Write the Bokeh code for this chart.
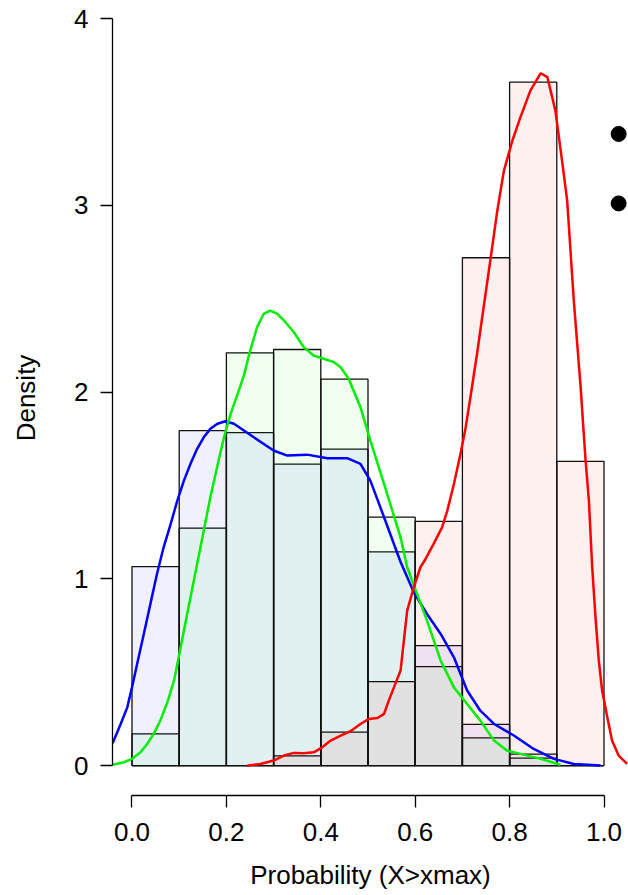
from bokeh.plotting import figure
from bokeh.models import Range1d, FixedTicker, PrintfTickFormatter
from bokeh.embed import file_html
from bokeh.resources import INLINE

# ---------------- data ----------------
bin_edges = [0.0, 0.1, 0.2, 0.3, 0.4, 0.5, 0.6, 0.7, 0.8, 0.9, 1.0]
blue_hist = [1.065, 1.794, 1.783, 1.614, 1.694, 1.144, 0.642, 0.221, 0.062, 0.0]
green_hist = [0.170, 1.271, 2.210, 2.228, 2.069, 1.330, 0.530, 0.148, 0.040, 0.0]
red_hist = [0.0, 0.0, 0.0, 0.052, 0.179, 0.450, 1.308, 2.719, 3.659, 1.629]

blue_x = [-0.041, -0.024, -0.010, 0.000, 0.011, 0.025, 0.039, 0.053, 0.067, 0.082,
          0.096, 0.110, 0.124, 0.138, 0.152, 0.166, 0.181, 0.198, 0.216, 0.258, 0.300,
          0.329, 0.371, 0.414, 0.456, 0.484, 0.505, 0.534, 0.569, 0.597, 0.625, 0.654,
          0.682, 0.710, 0.738, 0.767, 0.809, 0.851, 0.894, 0.936, 0.993]
blue_y = [0.120, 0.223, 0.312, 0.419, 0.545, 0.705, 0.866, 1.027, 1.169, 1.294,
          1.419, 1.526, 1.616, 1.696, 1.758, 1.803, 1.830, 1.844, 1.830, 1.758, 1.687,
          1.660, 1.665, 1.646, 1.646, 1.616, 1.526, 1.330, 1.090, 0.928, 0.812, 0.705,
          0.580, 0.402, 0.294, 0.223, 0.161, 0.089, 0.036, 0.009, 0.0]

green_x = [-0.041, -0.017, 0.000, 0.018, 0.032, 0.046, 0.060, 0.075, 0.089, 0.099,
           0.110, 0.124, 0.138, 0.152, 0.166, 0.181, 0.195, 0.209, 0.224, 0.237, 0.249,
           0.265, 0.279, 0.293, 0.308, 0.322, 0.343, 0.364, 0.385, 0.406, 0.428, 0.442,
           0.459, 0.484, 0.505, 0.534, 0.569, 0.583, 0.604, 0.625, 0.654, 0.682, 0.710,
           0.738, 0.767, 0.795, 0.823, 0.866, 0.908]
green_y = [0.005, 0.018, 0.036, 0.071, 0.116, 0.170, 0.241, 0.339, 0.455, 0.580,
           0.723, 0.901, 1.080, 1.258, 1.437, 1.606, 1.758, 1.883, 1.992, 2.088, 2.210,
           2.347, 2.419, 2.436, 2.419, 2.383, 2.320, 2.240, 2.195, 2.178, 2.160, 2.133,
           2.071, 1.919, 1.740, 1.508, 1.222, 1.062, 0.919, 0.776, 0.562, 0.419, 0.330,
           0.241, 0.134, 0.080, 0.063, 0.036, 0.005]

red_x = [0.244, 0.272, 0.300, 0.322, 0.343, 0.364, 0.385, 0.403, 0.421, 0.442, 0.463,
         0.484, 0.502, 0.520, 0.534, 0.544, 0.555, 0.569, 0.583, 0.597, 0.611, 0.620,
         0.639, 0.657, 0.668, 0.682, 0.696, 0.707, 0.717, 0.731, 0.745, 0.760, 0.774,
         0.788, 0.806, 0.823, 0.844, 0.866, 0.880, 0.897, 0.911, 0.922, 0.936, 0.950,
         0.961, 0.968, 0.975, 0.982, 0.989, 0.996, 1.007, 1.017, 1.031, 1.049]
red_y = [0.0, 0.009, 0.027, 0.054, 0.068, 0.066, 0.071, 0.098, 0.134, 0.161, 0.184,
         0.223, 0.250, 0.255, 0.277, 0.348, 0.419, 0.509, 0.830, 0.955, 1.062, 1.098,
         1.187, 1.276, 1.365, 1.508, 1.669, 1.812, 1.972, 2.205, 2.454, 2.720, 2.972,
         3.186, 3.347, 3.472, 3.614, 3.707, 3.686, 3.507, 3.240, 3.025, 2.490, 2.044,
         1.633, 1.419, 1.062, 0.794, 0.562, 0.402, 0.259, 0.134, 0.054, 0.009]

legend_dot_x = [1.031, 1.031]
legend_dot_y = [3.382, 3.010]

x_ticks = [0.0, 0.2, 0.4, 0.6, 0.8, 1.0]
y_ticks = [0, 1, 2, 3, 4]

FONT = "Liberation Sans"
FS = "26px"

p = figure(width=628, height=895, output_backend="svg", toolbar_location=None,
           x_range=Range1d(-0.0413, 1.0519), y_range=Range1d(-0.16, 4.0964),
           min_border_left=112, min_border_right=0, min_border_top=0,
           min_border_bottom=100)
p.outline_line_color = None
p.xgrid.visible = False
p.ygrid.visible = False
p.background_fill_color = "white"
p.border_fill_color = "white"

lefts = bin_edges[:-1]
rights = bin_edges[1:]
for hist, col in [(blue_hist, "blue"), (green_hist, "lime"), (red_hist, "red")]:
    p.quad(left=lefts, right=rights, bottom=0, top=hist, fill_color=col,
           fill_alpha=0.06, line_color="#111111", line_width=1.3)

p.line(blue_x, blue_y, line_color="blue", line_width=2.5)
p.line(green_x, green_y, line_color="#00ee00", line_width=2.5)
p.line(red_x, red_y, line_color="red", line_width=2.5)

p.scatter(legend_dot_x, legend_dot_y, size=15, color="black")

for ax in (p.xaxis[0], p.yaxis[0]):
    ax.axis_line_color = "black"
    ax.axis_line_width = 1.3
    ax.major_tick_line_color = "black"
    ax.major_tick_line_width = 1.3
    ax.major_tick_out = 12
    ax.major_tick_in = 0
    ax.minor_tick_line_color = None
    ax.major_label_text_font = FONT
    ax.major_label_text_font_size = FS
    ax.major_label_text_color = "black"
    ax.axis_label_text_font = FONT
    ax.axis_label_text_font_size = FS
    ax.axis_label_text_font_style = "normal"
    ax.axis_label_text_color = "black"

p.xaxis[0].bounds = (0, 1)
p.xaxis[0].ticker = FixedTicker(ticks=x_ticks)
p.xaxis[0].formatter = PrintfTickFormatter(format="%.1f")
p.xaxis[0].axis_label = "Probability (X>xmax)"
p.xaxis[0].major_label_standoff = 15
p.xaxis[0].axis_label_standoff = 16

p.yaxis[0].bounds = (0, 4)
p.yaxis[0].ticker = FixedTicker(ticks=y_ticks)
p.yaxis[0].axis_label = "Density"
p.yaxis[0].major_label_standoff = 12
p.yaxis[0].axis_label_standoff = 30

open("out.html", "w").write(file_html(p, INLINE))
